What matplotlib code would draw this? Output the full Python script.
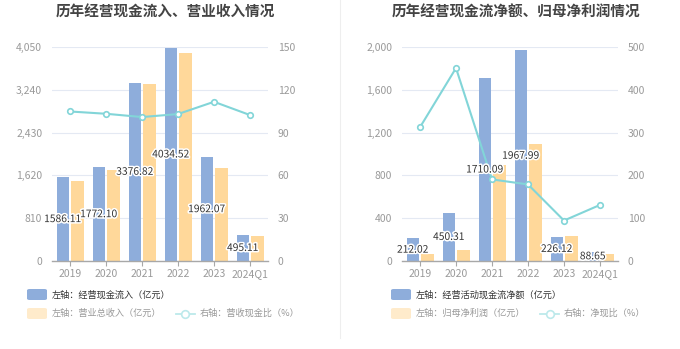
import matplotlib
matplotlib.use("Agg")
import matplotlib.pyplot as plt
import matplotlib.patheffects as pe
from matplotlib.patches import FancyBboxPatch
from matplotlib.lines import Line2D
import numpy as np

plt.rcParams['font.family'] = ['Noto Sans CJK SC', 'DejaVu Sans']

categories = ['2019', '2020', '2021', '2022', '2023', '2024Q1']

# Left chart
cash_inflow = [1586.11, 1772.10, 3376.82, 4034.52, 1962.07, 495.11]
revenue = [1511, 1720, 3345, 3929, 1758, 476]
cash_ratio = [104.8, 103.2, 100.9, 103.0, 111.6, 102.3]
left_yticks = [0, 810, 1620, 2430, 3240, 4050]
left_rticks = [0, 30, 60, 90, 120, 150]

# Right chart
net_cash = [212.02, 450.31, 1710.09, 1967.99, 226.12, 88.65]
net_profit = [67, 100, 897, 1097, 237.5, 68]
net_ratio = [312.5, 450.8, 190.6, 178.9, 94.5, 131]
right_yticks = [0, 400, 800, 1200, 1600, 2000]
right_rticks = [0, 100, 200, 300, 400, 500]

BLUE = '#8EADDB'
ORANGE = '#FFD89A'
TEAL = '#82D5D8'
GRID = '#E4E9F3'
TICK = '#9A9A9A'

W, H = 680, 349
fig = plt.figure(figsize=(W / 100, H / 100), dpi=100)


def px_rect(x0, y0, x1, y1):
    return [x0 / W, 1 - y1 / H, (x1 - x0) / W, (y1 - y0) / H]


def draw_chart(rect, title, title_x, bars1, bars2, line, yticks, rticks,
               leg_x, leg_texts, leg_line_x):
    ax = fig.add_axes(rect)
    x = np.arange(len(categories))
    bw = 0.35
    ax.bar(x - 0.2, bars1, width=bw, color=BLUE, zorder=2)
    ax.bar(x + 0.2, bars2, width=bw, color=ORANGE, zorder=2)
    ax.set_xlim(-0.5, len(categories) - 0.5)
    ax.set_ylim(yticks[0], yticks[-1])
    ax.set_yticks(yticks)
    ax.set_yticklabels([f'{v:,}' for v in yticks])
    ax.set_xticks(x)
    ax.set_xticklabels(categories)
    ax.grid(axis='y', color=GRID, linewidth=0.8, zorder=0)
    ax.set_axisbelow(True)
    for s in ['top', 'left', 'right']:
        ax.spines[s].set_visible(False)
    ax.spines['bottom'].set_color('#A8A8A8')
    ax.spines['bottom'].set_linewidth(1.0)
    ax.tick_params(axis='y', length=0, labelsize=7.5, colors=TICK, pad=7)
    ax.tick_params(axis='x', length=3.5, width=0.8, color='#A8A8A8',
                   labelsize=7.5, labelcolor=TICK, pad=2)

    ax2 = ax.twinx()
    ax2.set_ylim(rticks[0], rticks[-1])
    ax2.set_yticks(rticks)
    ax2.plot(x, line, color=TEAL, linewidth=1.5, marker='o', markersize=4,
             markerfacecolor='white', markeredgecolor=TEAL,
             markeredgewidth=1.2, zorder=4)
    for s in ['top', 'left', 'right', 'bottom']:
        ax2.spines[s].set_visible(False)
    ax2.tick_params(axis='y', length=0, labelsize=7.5, colors=TICK, pad=7)

    for xi, v in zip(x, bars1):
        t = ax2.text(xi - 0.2, v / 2, f'{v:.2f}', ha='center', va='center',
                     fontsize=7.4, color='#333333', zorder=6,
                     transform=ax.transData)
        t.set_path_effects([pe.withStroke(linewidth=2.2, foreground='white')])

    fig.text(title_x / W, 1 - 12 / H, title, ha='center', va='center',
             fontsize=10.5, fontweight='bold', color='#444444')

    # legend row 1
    fig.add_artist(FancyBboxPatch((leg_x / W, 1 - 300 / H), 20 / W, 11 / H,
                                  boxstyle='round,pad=0,rounding_size=0.004',
                                  transform=fig.transFigure, color=BLUE,
                                  linewidth=0))
    fig.text((leg_x + 25) / W, 1 - 295 / H, leg_texts[0], ha='left',
             va='center', fontsize=6.6, color='#333333')
    # legend row 2
    fig.add_artist(FancyBboxPatch((leg_x / W, 1 - 319 / H), 20 / W, 11 / H,
                                  boxstyle='round,pad=0,rounding_size=0.004',
                                  transform=fig.transFigure, color='#FFEBCB',
                                  linewidth=0))
    fig.text((leg_x + 25) / W, 1 - 313.5 / H, leg_texts[1], ha='left',
             va='center', fontsize=6.6, color='#999999')
    fig.add_artist(Line2D([leg_line_x / W, (leg_line_x + 19) / W],
                          [1 - 313.5 / H, 1 - 313.5 / H],
                          transform=fig.transFigure, color='#BCE9EB',
                          linewidth=1.3))
    fig.add_artist(Line2D([(leg_line_x + 9.5) / W], [1 - 313.5 / H],
                          transform=fig.transFigure, marker='o',
                          markersize=5.5, markerfacecolor='white',
                          markeredgecolor='#BCE9EB', markeredgewidth=1.2))
    fig.text((leg_line_x + 24) / W, 1 - 313.5 / H, leg_texts[2], ha='left',
             va='center', fontsize=6.6, color='#999999')
    return ax


draw_chart(px_rect(52, 47, 268, 261), '历年经营现金流入、营业收入情况', 165,
           cash_inflow, revenue, cash_ratio, left_yticks, left_rticks, 27,
           ['左轴：经营现金流入（亿元）', '左轴：营业总收入（亿元）',
            '右轴：营收现金比（%）'], 176)

draw_chart(px_rect(402, 47, 618, 261), '历年经营现金流净额、归母净利润情况', 516,
           net_cash, net_profit, net_ratio, right_yticks, right_rticks, 391,
           ['左轴：经营活动现金流净额（亿元）', '左轴：归母净利润（亿元）',
            '右轴：净现比（%）'], 540)

fig.add_artist(Line2D([340 / W, 340 / W], [1 - 0 / H, 1 - 338 / H],
                      transform=fig.transFigure, color='#EEEEEE',
                      linewidth=0.8))

fig.savefig('out.png', dpi=100)
